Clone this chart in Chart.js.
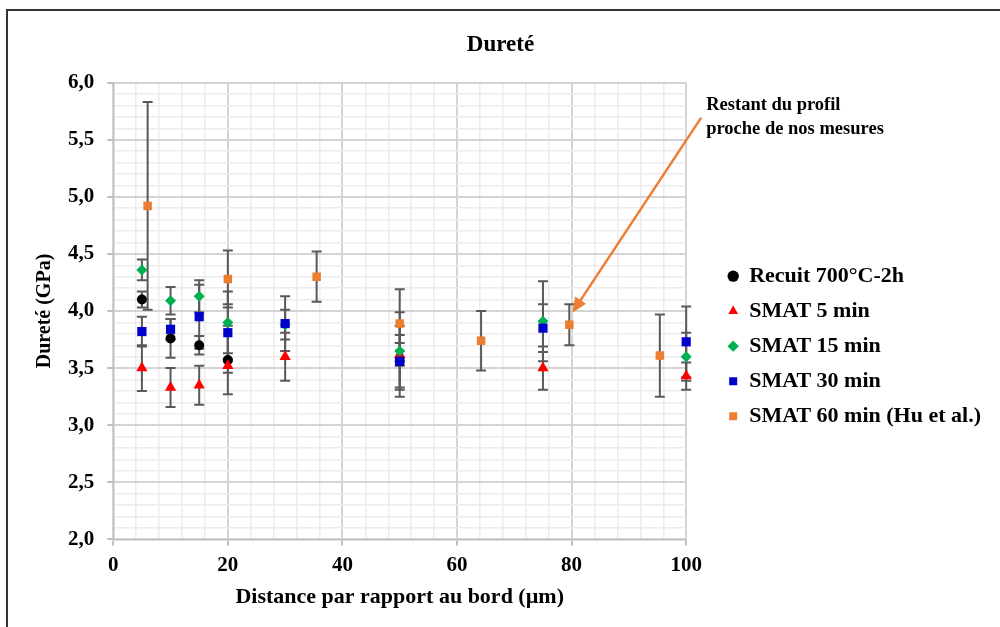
<!DOCTYPE html>
<html>
<head>
<meta charset="utf-8">
<script src="https://cdn.jsdelivr.net/npm/chart.js@4.4.1/dist/chart.umd.min.js"></script>
<style>
	html, body { margin: 0; padding: 0; background: #fff; overflow: hidden; }
	#frame { position: absolute; left: 6px; top: 9px; width: 1100px; height: 700px; border: 2px solid #333; }
	#wrap { position: absolute; left: 0; top: 0; width: 1000px; height: 627px; }
</style>
</head>
<body>
<div id="frame"></div>
<div id="wrap"><canvas id="myChart" width="1000" height="627"></canvas></div>
<script>
// values (distance in µm, hardness in GPa, +/- error)
var recuitX = [5, 10, 15, 20, 50];
var recuitY = [4.10, 3.76, 3.70, 3.57, 3.56];
var recuitErr = [0.07, 0.17, 0.08, 0.30, 0.31];

var smat5X = [5, 10, 15, 20, 30, 50, 75, 100];
var smat5Y = [3.50, 3.33, 3.35, 3.52, 3.60, 3.62, 3.50, 3.43];
var smat5Err = [0.20, 0.17, 0.17, 0.06, 0.21, 0.10, 0.19, 0.12];

var smat15X = [5, 10, 15, 20, 30, 50, 75, 100];
var smat15Y = [4.36, 4.09, 4.13, 3.90, 3.88, 3.65, 3.91, 3.60];
var smat15Err = [0.09, 0.12, 0.14, 0.27, 0.13, 0.34, 0.35, 0.21];

var smat30X = [5, 10, 15, 20, 30, 50, 75, 100];
var smat30Y = [3.82, 3.84, 3.95, 3.81, 3.89, 3.56, 3.85, 3.73];
var smat30Err = [0.13, 0.09, 0.28, 0.25, 0.24, 0.23, 0.21, 0.31];

var smat60X = [6, 20, 35.5, 50, 64.2, 79.6, 95.4];
var smat60Y = [4.92, 4.28, 4.30, 3.89, 3.74, 3.88, 3.61];
var smat60Err = [0.91, 0.25, 0.22, 0.30, 0.26, 0.18, 0.36];

var seriesNames = ["Recuit 700°C-2h", "SMAT 5 min", "SMAT 15 min", "SMAT 30 min", "SMAT 60 min (Hu et al.)"];
var noteLines = ["Restant du profil", "proche de nos mesures"];
var notePoint = 5; // index in smat60 the arrow points at

var
	black = "#000000",
	red = "#ff0000",
	green = "#00b050",
	blue = "#0000cc",
	orange = "#ed7d31",
	barGrey = "#595959",
	majorGrid = "#d4d4d4",
	minorGrid = "#ececec",
	serif = "'Liberation Serif', 'Times New Roman', serif";

function toPoints(xs, ys) {
	return xs.map(function(x, i) { return {x: x, y: ys[i]}; });
}

function isMajor(v, step) {
	var r = v / step;
	return Math.abs(r - Math.round(r)) < 1e-6;
}

function series(i, xs, ys, errs, color, style, radius) {
	return {
		label: seriesNames[i],
		data: toPoints(xs, ys),
		errorBars: errs,
		backgroundColor: color,
		borderColor: color,
		borderWidth: 0,
		pointStyle: style,
		pointRadius: radius,
		pointHoverRadius: radius,
		showLine: false,
		clip: false,
		order: 5 - i
	};
}

var errorBarPlugin = {
	id: 'errorBars',
	beforeDatasetsDraw: function(chart) {
		var ctx = chart.ctx, yScale = chart.scales.y;
		ctx.save();
		ctx.strokeStyle = barGrey;
		ctx.lineWidth = 2;
		chart.data.datasets.forEach(function(ds, i) {
			var meta = chart.getDatasetMeta(i);
			meta.data.forEach(function(pt, j) {
				var v = ds.data[j].y, e = ds.errorBars[j];
				var top = yScale.getPixelForValue(v + e), bot = yScale.getPixelForValue(v - e);
				ctx.beginPath();
				ctx.moveTo(pt.x, top); ctx.lineTo(pt.x, bot);
				ctx.moveTo(pt.x - 5, top); ctx.lineTo(pt.x + 5, top);
				ctx.moveTo(pt.x - 5, bot); ctx.lineTo(pt.x + 5, bot);
				ctx.stroke();
			});
		});
		ctx.restore();
	}
};

var notePlugin = {
	id: 'note',
	afterDatasetsDraw: function(chart) {
		var ctx = chart.ctx, area = chart.chartArea;
		var target = chart.getDatasetMeta(4).data[notePoint];
		var tx = target.x + 3, ty = target.y - 12;
		var sx = area.right + 15, sy = area.top + 35;
		var ang = Math.atan2(ty - sy, tx - sx);
		var len = 15, half = 6.5;
		ctx.save();
		ctx.strokeStyle = orange;
		ctx.fillStyle = orange;
		ctx.lineWidth = 2.5;
		ctx.beginPath();
		ctx.moveTo(sx, sy);
		ctx.lineTo(tx - Math.cos(ang) * (len - 2), ty - Math.sin(ang) * (len - 2));
		ctx.stroke();
		ctx.beginPath();
		ctx.moveTo(tx, ty);
		ctx.lineTo(tx - Math.cos(ang) * len - Math.sin(ang) * half, ty - Math.sin(ang) * len + Math.cos(ang) * half);
		ctx.lineTo(tx - Math.cos(ang) * len + Math.sin(ang) * half, ty - Math.sin(ang) * len - Math.cos(ang) * half);
		ctx.closePath();
		ctx.fill();
		ctx.fillStyle = "#000";
		ctx.font = "bold 18.5px " + serif;
		ctx.textBaseline = "middle";
		ctx.textAlign = "left";
		noteLines.forEach(function(t, i) {
			ctx.fillText(t, area.right + 20, area.top + 23 + i * 24);
		});
		ctx.restore();
	}
};

Chart.defaults.font.family = serif;
Chart.defaults.font.weight = 'bold';
Chart.defaults.color = "#000";

var ctx = document.getElementById("myChart").getContext('2d');
var myChart = new Chart(ctx, {
	type: 'scatter',
	data: {
		datasets: [
			series(0, recuitX, recuitY, recuitErr, black, 'circle', 5),
			series(1, smat5X, smat5Y, smat5Err, red, 'triangle', 6.5),
			series(2, smat15X, smat15Y, smat15Err, green, 'rectRot', 5.5),
			series(3, smat30X, smat30Y, smat30Err, blue, 'rect', 6.5),
			series(4, smat60X, smat60Y, smat60Err, orange, 'rect', 6)
		]
	},
	options: {
		responsive: false,
		animation: false,
		layout: { padding: { top: 20, left: 10, right: 9, bottom: 11 } },
		plugins: {
			title: {
				display: true,
				text: 'Dureté',
				font: { size: 23, weight: 'bold' },
				padding: { top: 11, bottom: 24 }
			},
			tooltip: { enabled: false },
			legend: {
				position: 'right',
				align: 'center',
				maxWidth: 300,
				title: { display: true, text: '', font: { size: 12 }, padding: { top: 0, bottom: 42 } },
				labels: {
					usePointStyle: true,
					boxWidth: 10,
					boxHeight: 8,
					padding: 13,
					font: { size: 22, weight: 'bold' },
					sort: function(a, b) { return a.datasetIndex - b.datasetIndex; }
				}
			}
		},
		scales: {
			x: {
				type: 'linear',
				min: 0,
				max: 100,
				border: { color: '#bfbfbf', width: 1.5 },
				grid: {
					tickLength: 6,
					lineWidth: function(c) { return c.tick && isMajor(c.tick.value, 20) ? 2 : 1.5; },
					color: function(c) { return c.tick && isMajor(c.tick.value, 20) ? majorGrid : minorGrid; },
					tickColor: function(c) { return c.tick && isMajor(c.tick.value, 20) ? '#bfbfbf' : 'rgba(0,0,0,0)'; }
				},
				ticks: {
					stepSize: 4,
					autoSkip: false,
					maxRotation: 0,
					padding: 8,
					font: { size: 21, weight: 'bold' },
					callback: function(v) { return isMajor(v, 20) ? String(v) : ''; }
				},
				title: {
					display: true,
					text: 'Distance par rapport au bord (µm)',
					font: { size: 22, weight: 'bold' },
					padding: { top: -2, bottom: 5 }
				}
			},
			y: {
				min: 2,
				max: 6,
				border: { color: '#bfbfbf', width: 1.5 },
				grid: {
					tickLength: 6,
					lineWidth: function(c) { return c.tick && isMajor(c.tick.value, 0.5) ? 2 : 1.5; },
					color: function(c) { return c.tick && isMajor(c.tick.value, 0.5) ? majorGrid : minorGrid; },
					tickColor: function(c) { return c.tick && isMajor(c.tick.value, 0.5) ? '#bfbfbf' : 'rgba(0,0,0,0)'; }
				},
				ticks: {
					stepSize: 0.1,
					autoSkip: false,
					padding: 13,
					font: { size: 21, weight: 'bold' },
					callback: function(v) { return isMajor(v, 0.5) ? v.toFixed(1).replace('.', ',') : ''; }
				},
				title: {
					display: true,
					text: 'Dureté (GPa)',
					font: { size: 20, weight: 'bold' },
					padding: { top: 23, bottom: -2 }
				}
			},
			gap: {
				position: 'right',
				display: true,
				grid: { display: false, drawTicks: false },
				border: { display: false },
				ticks: { display: false },
				afterFit: function(s) { s.width = 29; }
			}
		}
	},
	plugins: [errorBarPlugin, notePlugin]
});
</script>
</body>
</html>
